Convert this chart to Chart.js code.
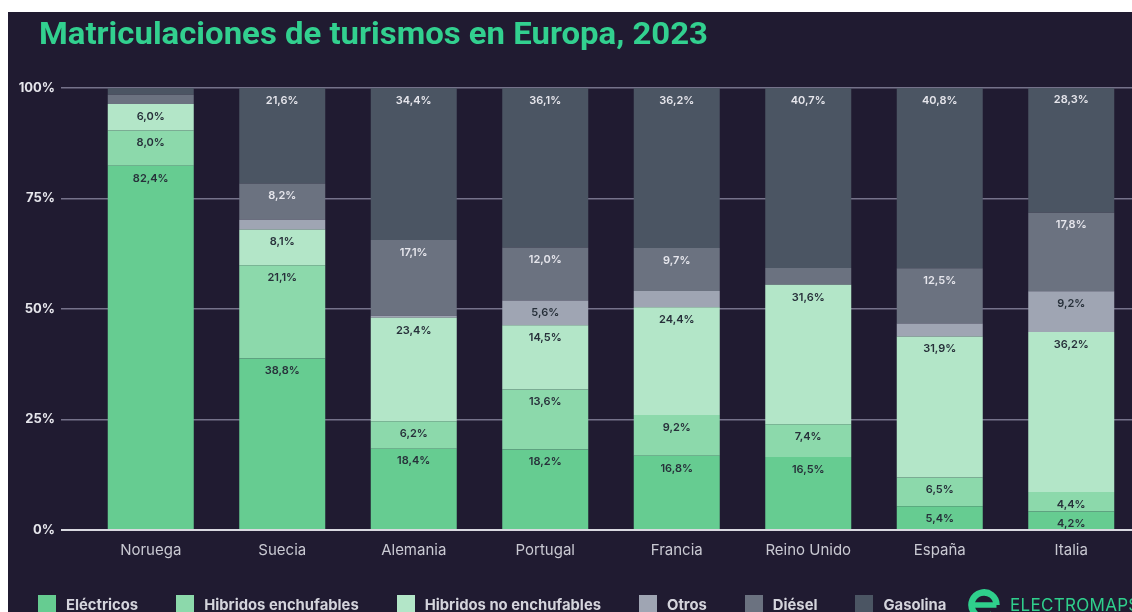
<!DOCTYPE html>
<html lang="es">
<head>
<meta charset="utf-8">
<title>Matriculaciones de turismos en Europa, 2023</title>
<script src="https://cdn.jsdelivr.net/npm/chart.js@4.4.1/dist/chart.umd.min.js"></script>
<style>
  html, body { margin: 0; padding: 0; width: 1132px; height: 612px; overflow: hidden; background: #fff; }
  .panel { position: absolute; left: 8px; top: 12px; width: 1200px; height: 700px; background: #201b31; }
  #chart { position: absolute; left: 0; top: 0; }
  h1 {
    position: absolute; left: 39px; top: 17px; margin: 0;
    font: 700 32px/32px Roboto, sans-serif; color: #32d08f;
    white-space: nowrap; transform-origin: left top;
  }
  .legend { position: absolute; left: 38px; top: 595px; display: flex; }
  .legend .item { display: flex; align-items: flex-start; margin-right: 38px; }
  .legend .box { width: 18px; height: 18px; margin-right: 10px; }
  .legend .text { font: 700 14.8px/18px Inter, sans-serif; color: #d4d4dc; margin-top: 1px; white-space: nowrap; }
  .logo { position: absolute; left: 968px; top: 589px; }
  .brand {
    position: absolute; left: 1010px; top: 595px;
    font: 400 17px/20px Inter, sans-serif; letter-spacing: 0.3px; color: #2fcf8c; white-space: nowrap;
  }
</style>
</head>
<body>
<div class="panel"></div>
<canvas id="chart" width="1140" height="612" style="width:1140px;height:612px"></canvas>
<h1 id="title">Matriculaciones de turismos en Europa, 2023</h1>
<div class="legend" id="legend"></div>
<svg class="logo" width="32" height="32" viewBox="0 0 32 32">
  <path d="M28.5 16 A12.5 12.5 0 1 0 24.8 24.8" fill="none" stroke="#2fcf8c" stroke-width="6.5"/>
  <path d="M4 16 H28.5" stroke="#2fcf8c" stroke-width="5.5"/>
</svg>
<div class="brand">ELECTROMAPS</div>

<script>
// Datos (porcentaje de matriculaciones por tipo de motorización)
const categories = ['Noruega', 'Suecia', 'Alemania', 'Portugal', 'Francia', 'Reino Unido', 'España', 'Italia'];
const electricos = [82.4, 38.8, 18.4, 18.2, 16.8, 16.5, 5.4, 4.2];
const hibridosEnchufables = [8.0, 21.1, 6.2, 13.6, 9.2, 7.4, 6.5, 4.4];
const hibridosNoEnchufables = [6.0, 8.1, 23.4, 14.5, 24.4, 31.6, 31.9, 36.2];
const otros = [0, 2.2, 0.5, 5.6, 3.7, 0, 2.9, 9.2];
const diesel = [2.1, 8.2, 17.1, 12.0, 9.7, 3.8, 12.5, 17.8];
const gasolina = [1.5, 21.6, 34.4, 36.1, 36.2, 40.7, 40.8, 28.3];
const yTickValues = [0, 25, 50, 75, 100];

const seriesNames = ['Eléctricos', 'Hibridos enchufables', 'Hibridos no enchufables', 'Otros', 'Diésel', 'Gasolina'];
const seriesData = [electricos, hibridosEnchufables, hibridosNoEnchufables, otros, diesel, gasolina];
const seriesColors = ['#66cc91', '#8cd9ab', '#b3e6c8', '#9fa5b3', '#6b7280', '#4b5563'];
const labelColors = ['#27303a', '#27303a', '#27303a', '#27303a', '#e6e6ec', '#e6e6ec'];
const LABEL_MIN = 4;

const formatPct = v => v.toFixed(1).replace('.', ',') + '%';

// Etiquetas dentro de cada segmento, pegadas a su borde superior
const segmentLabels = {
  id: 'segmentLabels',
  afterDatasetsDraw(chart) {
    const ctx = chart.ctx;
    ctx.save();
    ctx.font = '600 11px Inter';
    ctx.textAlign = 'center';
    ctx.textBaseline = 'middle';
    chart.data.datasets.forEach((ds, i) => {
      chart.getDatasetMeta(i).data.forEach((bar, j) => {
        const v = ds.data[j];
        if (v < LABEL_MIN) return;
        ctx.fillStyle = labelColors[i];
        ctx.fillText(formatPct(v), bar.x, Math.min(bar.y, bar.base) + 12.5);
      });
    });
    ctx.restore();
  }
};

function buildLegend() {
  const el = document.getElementById('legend');
  seriesNames.forEach((name, i) => {
    const item = document.createElement('div');
    item.className = 'item';
    item.innerHTML = `<div class="box" style="background:${seriesColors[i]}"></div><div class="text">${name}</div>`;
    el.appendChild(item);
  });
}

function fitTitle() {
  const t = document.getElementById('title');
  const w = t.getBoundingClientRect().width;
  t.style.transform = `scaleX(${669 / w})`;
}

Chart.defaults.font.family = 'Inter';

new Chart(document.getElementById('chart'), {
  type: 'bar',
  data: {
    labels: categories,
    datasets: seriesNames.map((name, i) => ({
      label: name,
      data: seriesData[i],
      backgroundColor: seriesColors[i],
      borderWidth: 0,
      barPercentage: 0.654,
      categoryPercentage: 1
    }))
  },
  options: {
    responsive: false,
    animation: false,
    layout: { padding: { top: 88, right: 3, bottom: 0, left: 0 } },
    plugins: {
      legend: { display: false },
      title: { display: false },
      tooltip: { enabled: false }
    },
    scales: {
      x: {
        stacked: true,
        grid: { display: false, drawTicks: false },
        border: { display: false },
        ticks: { color: '#c9c9d2', font: { size: 15 }, padding: 11 },
        afterFit(scale) { scale.height = 82; }
      },
      y: {
        stacked: true,
        min: 0,
        max: 100,
        afterBuildTicks(scale) { scale.ticks = yTickValues.map(v => ({ value: v })); },
        grid: {
          color: c => (c.tick && c.tick.value === 0 ? '#d9d9e0' : '#75728a'),
          lineWidth: c => (c.tick && c.tick.value === 0 ? 2 : 1.5),
          tickLength: 24
        },
        border: { display: false },
        ticks: {
          color: '#e6e6ec',
          font: { size: 13, weight: '700' },
          padding: 6,
          callback: v => v + '%'
        },
        afterFit(scale) { scale.width = 85; }
      }
    }
  },
  plugins: [segmentLabels]
});

buildLegend();
if (document.fonts && document.fonts.ready) {
  document.fonts.ready.then(fitTitle);
} else {
  fitTitle();
}
</script>
</body>
</html>
